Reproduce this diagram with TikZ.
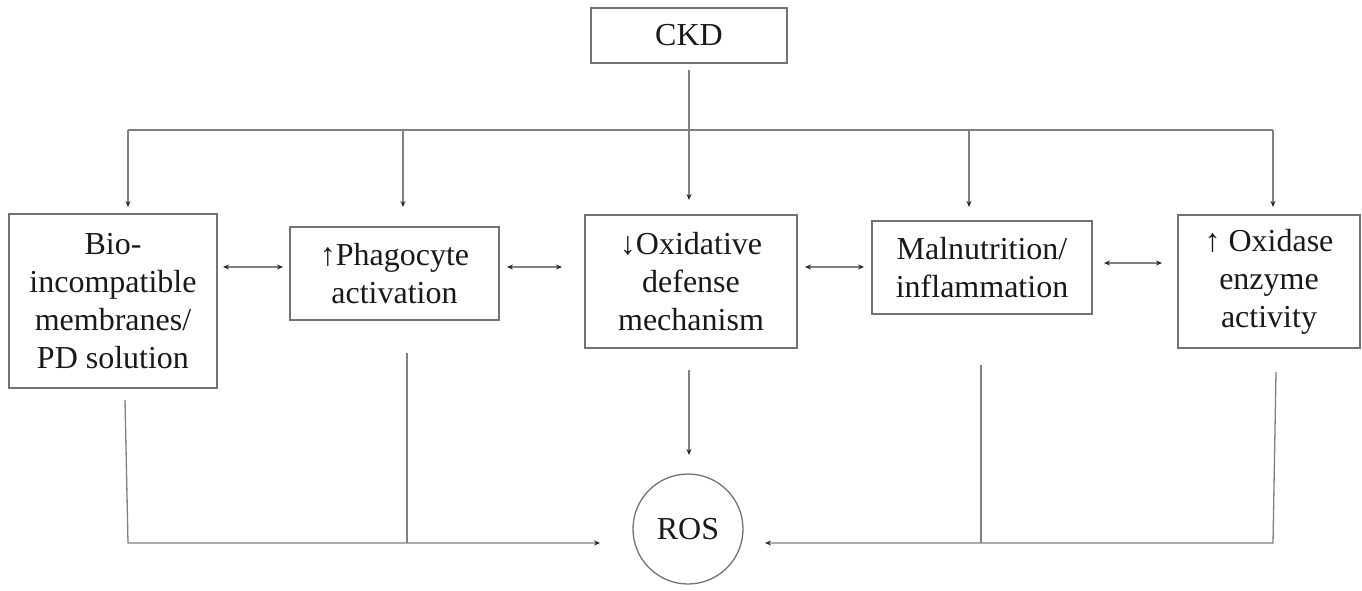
\documentclass[tikz,border=0pt]{standalone}
\usepackage{fontspec}
\setmainfont{Liberation Serif}
\usetikzlibrary{arrows.meta}
\begin{document}
\begin{tikzpicture}[x=1pt,y=-1pt,
  box/.style={draw=black!55,line width=1.3pt,inner sep=0pt,align=center,
    font=\fontsize{32}{38}\selectfont,text=black!90},
  conn/.style={draw=black!50,line width=1.3pt},
  tip/.style={-{Stealth[length=6pt,width=5pt,color=black!85]}},
  both/.style={{Stealth[length=6pt,width=5pt,color=black!85]}-{Stealth[length=6pt,width=5pt,color=black!85]}}]
\useasboundingbox (0,0) rectangle (1362,590);
\node[box,minimum width=196pt,minimum height=55pt] (ckd) at (689,35.5) {CKD};
\node[box,minimum width=208pt,minimum height=174pt] (b1) at (113,301) {Bio-\\incompatible\\membranes/\\PD solution};
\node[box,minimum width=209pt,minimum height=93pt] (b2) at (394.5,273.5) {↑Phagocyte\\activation};
\node[box,minimum width=212pt,minimum height=133pt] (b3) at (691,281.5) {↓Oxidative\\defense\\mechanism};
\node[box,minimum width=220pt,minimum height=93pt] (b4) at (982,267.5) {Malnutrition/\\inflammation};
\node[box,minimum width=182pt,minimum height=133pt] (b5) at (1269,281.5) {↑ Oxidase\\enzyme\\activity};
\node[box,circle,minimum size=110pt] (ros) at (688,529) {ROS};
% top distribution
\coordinate (hL) at (128,130);
\coordinate (hR) at (1273,130);
\draw[conn] (hL) -- (hR);
\draw[conn,tip] (689,70) -- (689,200);
\draw[conn,tip] (hL) -- (128,207);
\draw[conn,tip] (403,130) -- (403,207);
\draw[conn,tip] (969,130) -- (969,207);
\draw[conn,tip] (hR) -- (1273,207);
% bidirectional
\draw[conn,both] (223,267) -- (283,267);
\draw[conn,both] (507,267) -- (562,267);
\draw[conn,both] (805,267) -- (864,267);
\draw[conn,both] (1104,263) -- (1162,263);
% bottom
\coordinate (bl) at (128,543);
\coordinate (br) at (1273,543);
\draw[conn,tip] (125,400) -- (bl) -- (600,543);
\draw[conn] (407,353) -- (407,543);
\draw[conn,tip] (689,370) -- (689,455);
\draw[conn] (981,365) -- (981,543);
\draw[conn,tip] (1276,372) -- (br) -- (765,543);
\end{tikzpicture}
\end{document}
